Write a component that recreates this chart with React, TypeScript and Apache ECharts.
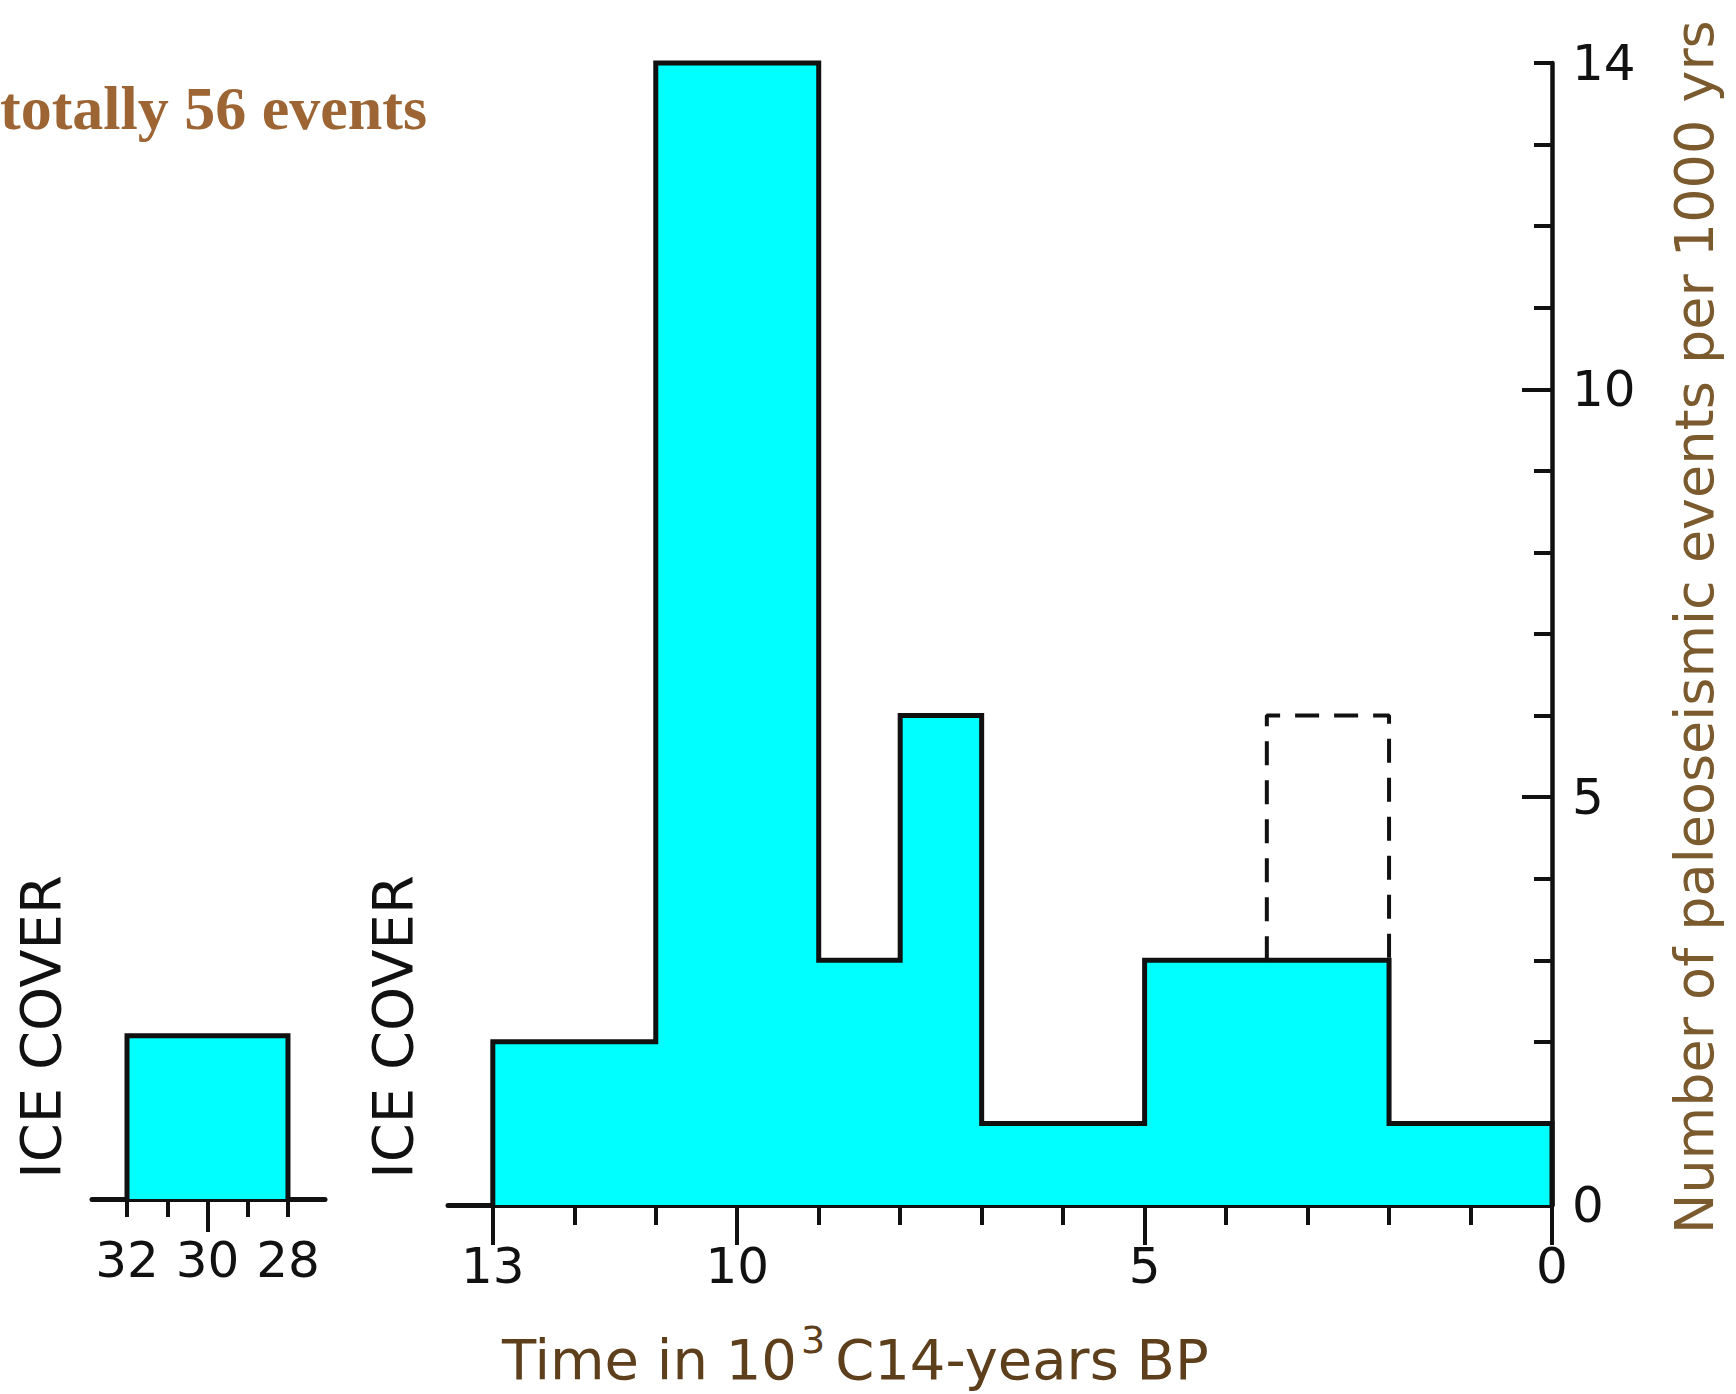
import React, { useEffect, useRef } from "react";
import * as echarts from "echarts";

// ---- data ----
const binEdges = [13, 11, 9, 8, 7, 5, 2, 0]; // 10^3 C14-years BP
const eventsPer1000 = [2, 14, 3, 6, 1, 3, 1];
const dashedEdges = [3.5, 2];
const dashedRange = [3, 6];
const iceEdges = [32, 28];
const iceEvents = [2];
const mainLabelTicks = [13, 10, 5, 0];
const mainMinorTicks = [12, 11, 9, 8, 7, 6, 4, 3, 2, 1];
const yLabelTicks = [0, 5, 10, 14];
const yMajorTicks = [5, 10];
const yMinorTicks = [1, 2, 3, 4, 6, 7, 8, 9, 11, 12, 13, 14];
const iceLabelTicks = [32, 30, 28];
const iceMinorTicks = [32, 31, 29, 28];
const iceMajorTicks = [30];
const mainAxisExtent = [0, 13.55];
const iceAxisExtent = [27.08, 32.87];

const titleText = "totally 56 events";
const xTitle = "Time in 10{sup|3}C14-years BP";
const yTitle = "Number of paleoseismic events per 1000 yrs";
const iceText = "ICE COVER";

const SANS = "'DejaVu Sans', sans-serif";
const CYAN = "#00FFFF";
const INK = "#111111";

function buildStep(edges: number[], vals: number[]) {
  const pts: number[][] = [[edges[0], 0]];
  vals.forEach((v, i) => pts.push([edges[i], v]));
  pts.push([edges[edges.length - 1], vals[vals.length - 1]]);
  pts.push([edges[edges.length - 1], 0]);
  return pts;
}

export default function App() {
  const ref = useRef<HTMLDivElement>(null);
  useEffect(() => {
    if (!ref.current) return;
    const chart = echarts.init(ref.current, null, { renderer: "svg" });
    const histData = buildStep(binEdges, eventsPer1000);
    const iceData = buildStep(iceEdges, iceEvents);
    const dashedData = [
      [dashedEdges[0], dashedRange[0]],
      [dashedEdges[0], dashedRange[1]],
      [dashedEdges[1], dashedRange[1]],
      [dashedEdges[1], dashedRange[0]],
    ];
    const labelStyle = { color: INK, fontSize: 50, fontFamily: SANS, lineHeight: 50 };
    const tickLine = { color: INK, width: 4 };
    const option: any = {
      animation: false,
      backgroundColor: "#ffffff",
      grid: [
        { left: 448, right: 184, top: 63, bottom: 189 },
        { left: 92, width: 233, top: 57, bottom: 195 },
      ],
      xAxis: [
        {
          gridIndex: 0, type: "value", min: mainAxisExtent[0], max: mainAxisExtent[1], inverse: true, position: "bottom",
          axisLine: { show: true, lineStyle: { color: INK, width: 5 } },
          axisTick: { show: true, customValues: mainMinorTicks, length: 20, lineStyle: tickLine },
          axisLabel: { show: false },
          splitLine: { show: false },
        },
        {
          gridIndex: 0, type: "value", min: mainAxisExtent[0], max: mainAxisExtent[1], inverse: true, position: "bottom",
          axisLine: { show: false },
          axisTick: { show: true, customValues: mainLabelTicks, length: 40, lineStyle: tickLine },
          axisLabel: { show: true, customValues: mainLabelTicks, margin: 36, ...labelStyle },
          splitLine: { show: false },
        },
        {
          gridIndex: 1, type: "value", min: iceAxisExtent[0], max: iceAxisExtent[1], inverse: true, position: "bottom",
          axisLine: { show: true, lineStyle: { color: INK, width: 5 } },
          axisTick: { show: true, customValues: iceMinorTicks, length: 18, lineStyle: tickLine },
          axisLabel: { show: false },
          splitLine: { show: false },
        },
        {
          gridIndex: 1, type: "value", min: iceAxisExtent[0], max: iceAxisExtent[1], inverse: true, position: "bottom",
          axisLine: { show: false },
          axisTick: { show: true, customValues: iceMajorTicks, length: 33, lineStyle: tickLine },
          axisLabel: { show: true, customValues: iceLabelTicks, margin: 36, ...labelStyle },
          splitLine: { show: false },
        },
      ],
      yAxis: [
        {
          gridIndex: 0, type: "value", min: 0, max: 14, position: "right",
          axisLine: { show: true, onZero: false, lineStyle: { color: INK, width: 4.5 } },
          axisTick: { show: true, inside: true, customValues: yMinorTicks, length: 18, lineStyle: tickLine },
          axisLabel: { show: true, customValues: yLabelTicks, margin: 20, ...labelStyle },
          splitLine: { show: false },
        },
        {
          gridIndex: 0, type: "value", min: 0, max: 14, position: "right",
          axisLine: { show: false },
          axisTick: { show: true, inside: true, customValues: yMajorTicks, length: 30, lineStyle: tickLine },
          axisLabel: { show: false },
          splitLine: { show: false },
        },
        {
          gridIndex: 1, type: "value", min: 0, max: 14, show: false,
        },
      ],
      series: [
        {
          type: "line", xAxisIndex: 0, yAxisIndex: 0, data: histData, step: "end",
          symbol: "none", clip: false, z: 1,
          lineStyle: { color: INK, width: 5, join: "miter" },
          areaStyle: { color: CYAN, opacity: 1 },
        },
        {
          type: "line", xAxisIndex: 0, yAxisIndex: 0, data: dashedData,
          symbol: "none", clip: false, z: 1,
          lineStyle: { color: INK, width: 4, type: [24, 15] },
        },
        {
          type: "line", xAxisIndex: 2, yAxisIndex: 2, data: iceData, step: "end",
          symbol: "none", clip: false, z: 1,
          lineStyle: { color: INK, width: 5, join: "miter" },
          areaStyle: { color: CYAN, opacity: 1 },
        },
      ],
      graphic: [
        {
          type: "text", left: 0, top: 77,
          style: {
            text: titleText, fill: "#9C6533",
            font: "bold 62px 'Liberation Serif', 'Times New Roman', serif",
          },
        },
        {
          type: "text", x: 40, y: 1027, rotation: Math.PI / 2,
          style: { text: iceText, fill: INK, fontSize: 56, fontFamily: SANS, align: "center", verticalAlign: "middle" },
        },
        {
          type: "text", x: 392, y: 1027, rotation: Math.PI / 2,
          style: { text: iceText, fill: INK, fontSize: 56, fontFamily: SANS, align: "center", verticalAlign: "middle" },
        },
        {
          type: "text", x: 1694, y: 1234, rotation: Math.PI / 2,
          style: { text: yTitle, fill: "#7B5A2E", fontSize: 54, fontFamily: SANS, align: "left", verticalAlign: "middle" },
        },
        {
          type: "text", x: 502, y: 1359,
          style: {
            text: xTitle, fill: "#5E3F1C", fontSize: 56, fontFamily: SANS, lineHeight: 76,
            align: "left", verticalAlign: "middle",
            rich: {
              sup: { fontSize: 38, fontFamily: SANS, fill: "#5E3F1C", verticalAlign: "top", padding: [0, 10, 0, 4] },
            },
          },
        },
      ],
    };
    chart.setOption(option);
    return () => chart.dispose();
  }, []);
  return (
    <div
      ref={ref}
      style={{ position: "fixed", left: 0, top: 0, width: 1736, height: 1394, background: "#fff" }}
    />
  );
}
